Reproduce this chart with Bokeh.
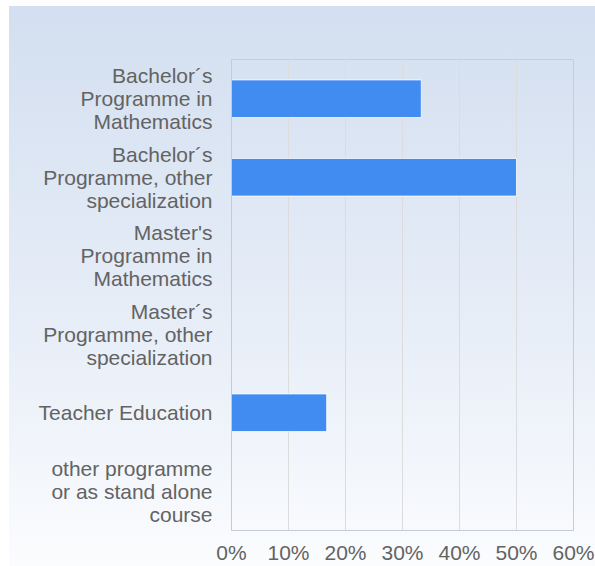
from bokeh.plotting import figure
from bokeh.models import FactorRange, Range1d, FixedTicker, PrintfTickFormatter, ColumnDataSource
from bokeh.embed import file_html
from bokeh.resources import INLINE

categories = [
    "Bachelor´s\nProgramme in\nMathematics",
    "Bachelor´s\nProgramme, other\nspecialization",
    "Master's\nProgramme in\nMathematics",
    "Master´s\nProgramme, other\nspecialization",
    "Teacher Education",
    "other programme\nor as stand alone\ncourse",
]
values = [33.3, 50.0, 0.0, 0.0, 16.7, 0.0]
x_ticks = [0, 10, 20, 30, 40, 50, 60]

src = ColumnDataSource(data=dict(cat=categories, val=values))

p = figure(
    width=595, height=566,
    y_range=FactorRange(factors=list(reversed(categories))),
    x_range=Range1d(0, 60),
    output_backend="svg", toolbar_location=None,
    min_border_left=231, min_border_right=22, min_border_top=59, min_border_bottom=34,
)
p.border_fill_color = None
p.background_fill_color = None
p.styles = {
    "background-image": "linear-gradient(to bottom, #d3dff0 0%, #e6edf7 55%, #fbfcfe 100%)",
    "background-size": "calc(100% - 9px) calc(100% - 6px)",
    "background-position": "right bottom",
    "background-repeat": "no-repeat",
    "background-color": "white",
}
p.outline_line_color = "#cccccc"
p.outline_line_width = 1

p.hbar(y="cat", right="val", left=0, height=0.48, source=src,
       fill_color="#418cf0", line_color="white", line_width=1, line_alpha=0.8)

p.xaxis.ticker = FixedTicker(ticks=x_ticks)
p.xaxis.formatter = PrintfTickFormatter(format="%d%%")
for ax in (p.xaxis[0], p.yaxis[0]):
    ax.major_tick_line_color = None
    ax.minor_tick_line_color = None
    ax.major_tick_out = 0
    ax.major_tick_in = 0
    ax.axis_line_color = "#c4cbd6"
    ax.major_label_text_font = "Liberation Sans"
    ax.major_label_text_font_size = "21px"
    ax.major_label_text_color = "#636363"
p.xaxis.major_label_standoff = 10
p.yaxis.major_label_standoff = 19
p.yaxis.major_label_text_line_height = 1.0

p.xgrid.grid_line_color = "#dcdcdc"
p.xgrid.ticker = FixedTicker(ticks=x_ticks)
p.ygrid.grid_line_color = None

open("out.html", "w").write(file_html(p, INLINE))
